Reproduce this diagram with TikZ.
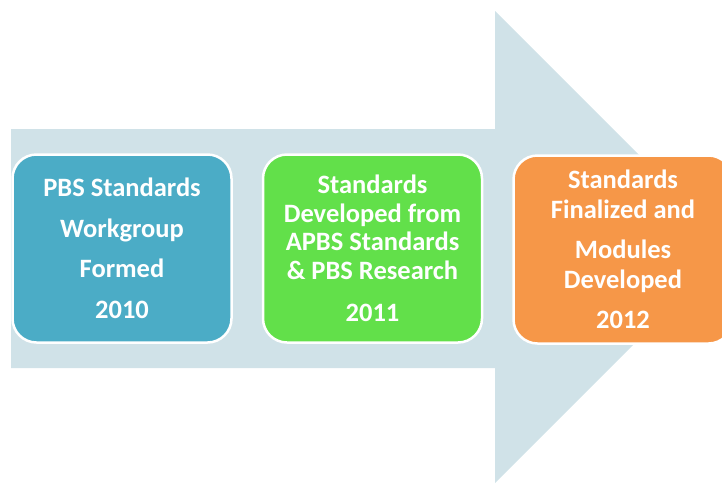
\documentclass[tikz,border=0pt]{standalone}
\usepackage{fontspec}
\setmainfont{Carlito}
\usetikzlibrary{positioning}
\definecolor{arrowblue}{RGB}{208,226,232}
\definecolor{aqua}{RGB}{75,172,198}
\definecolor{lime}{RGB}{98,224,74}
\definecolor{orange}{RGB}{246,151,72}
\tikzstyle{stage}=[draw=white,line width=2.5pt,rounded corners=24pt,
  minimum width=219pt,minimum height=188pt,inner sep=0pt,
  text=white,align=center]

\begin{document}
\begin{tikzpicture}[x=1pt,y=-1pt,node distance=29pt]
    \useasboundingbox (0,0) rectangle (722,483);
    \clip (0,0) rectangle (722,483);

    % big arrow in the back
    \fill [arrowblue] (11,129) -- (495,129) -- (495,11) -- (731,247)
      -- (495,483) -- (495,368) -- (11,368) -- cycle;

    % the three stages
    \node [stage,fill=aqua,font=\bfseries\fontsize{26.5}{40.5}\selectfont]
      (y2010) at (122,248.5) {PBS Standards\\Workgroup\\Formed\\2010};
    \node [stage,fill=lime,right=of y2010,
      font=\bfseries\fontsize{26.5}{28.5}\selectfont] (y2011)
      {Standards\\Developed from\\APBS Standards\\\& PBS Research\\[14pt]2011};
    \node [stage,fill=orange,right=of y2011,yshift=-1pt,
      font=\bfseries\fontsize{26.5}{30}\selectfont] (y2012)
      {Standards\\Finalized and\\[10pt]Modules\\Developed\\[10pt]2012};
\end{tikzpicture}
\end{document}
